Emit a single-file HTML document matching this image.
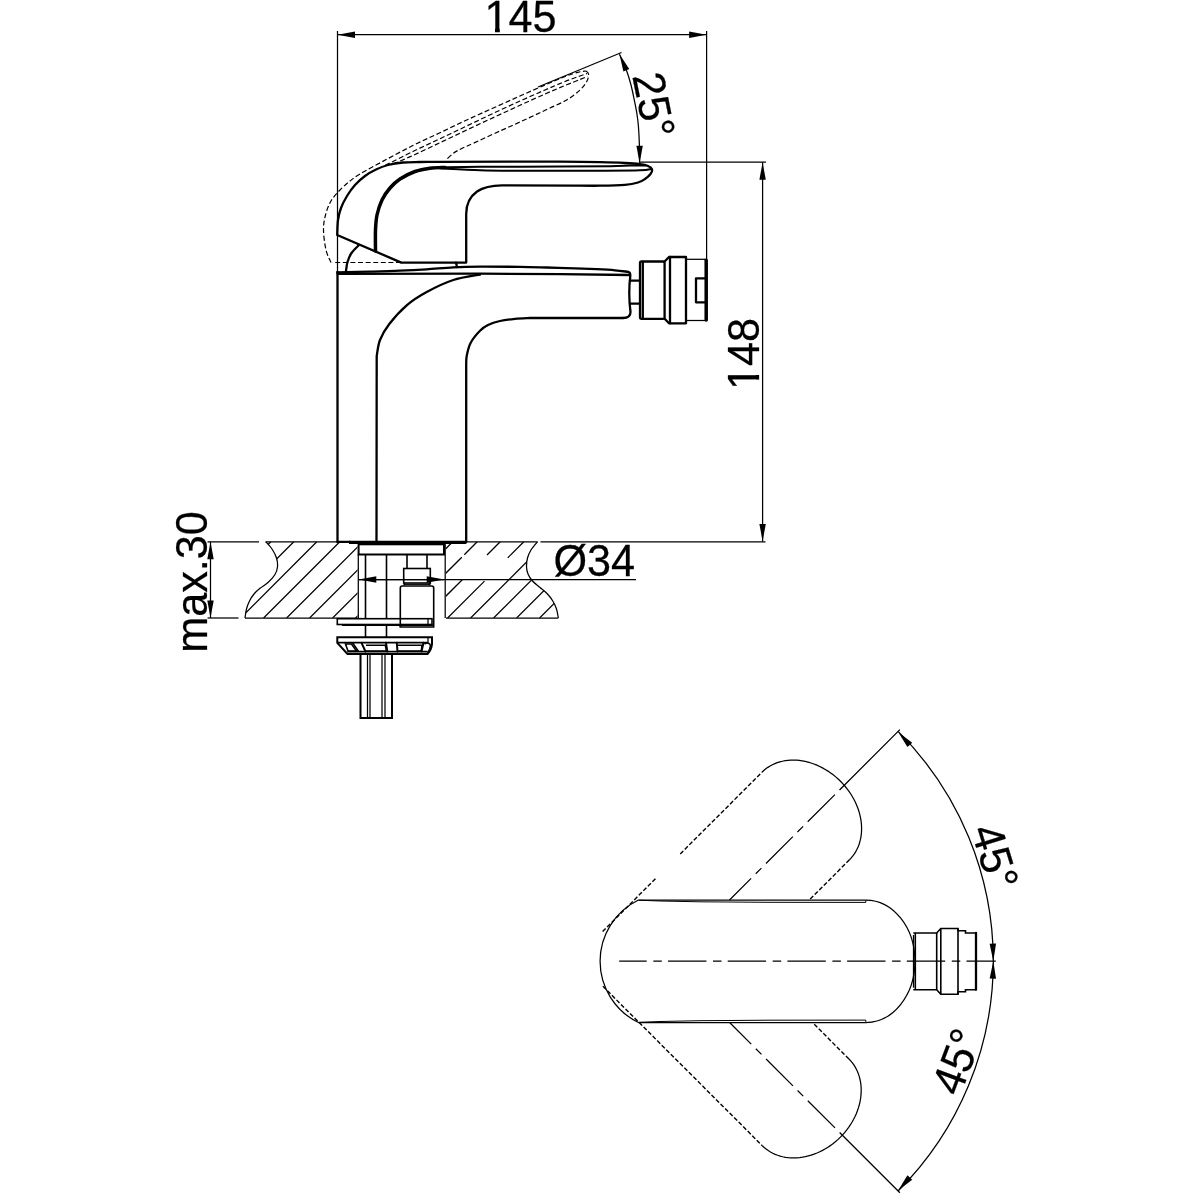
<!DOCTYPE html>
<html lang="en">
<head>
<meta charset="utf-8">
<title>Bidet mixer dimensions</title>
<style>
html,body{margin:0;padding:0;background:#fff;}
body{width:1200px;height:1200px;overflow:hidden;}
svg{display:block;will-change:transform;}
.t{fill:none;stroke:#000;stroke-width:1.25;}
.h{fill:none;stroke:#000;stroke-width:1.0;}
.m{fill:none;stroke:#000;stroke-width:1.6;}
.k2{fill:none;stroke:#000;stroke-width:2.0;stroke-linecap:round;}
.k{fill:none;stroke:#000;stroke-width:2.3;stroke-linejoin:round;stroke-linecap:round;}
.k3b{fill:none;stroke:#000;stroke-width:3.2;}
.k3{fill:none;stroke:#000;stroke-width:3.5;stroke-linecap:round;}
.d{fill:none;stroke:#000;stroke-width:1.2;stroke-dasharray:5 2.6;}
.d2{fill:none;stroke:#000;stroke-width:1.4;stroke-dasharray:4.3 2.1;}
.a{fill:#000;stroke:none;}
.w{fill:#fff;stroke:none;}
.tx{font-family:"Liberation Sans",sans-serif;font-size:43.2px;fill:#000;stroke:#000;stroke-width:0.25;stroke-linejoin:round;}
</style>
</head>
<body>
<svg width="1200" height="1200" viewBox="0 0 1200 1200">
<rect x="0" y="0" width="1200" height="1200" fill="#fff"/>
<line x1="337.50" y1="31.00" x2="337.50" y2="272.00" class="t" />
<line x1="706.60" y1="31.00" x2="706.60" y2="259.50" class="t" />
<line x1="337.50" y1="34.70" x2="706.60" y2="34.70" class="t" />
<polygon points="337.50,34.70 355.00,31.50 355.00,37.90" class="a"/>
<polygon points="706.60,34.70 689.10,37.90 689.10,31.50" class="a"/>
<text transform="translate(520.50 32.00) rotate(0.00) scale(1 1.04)" class="tx" text-anchor="middle">145</text>
<rect x="485.5" y="27.7" width="9.5" height="5.6" class="w"/><rect x="499.8" y="27.7" width="8.7" height="5.6" class="w"/>
<line x1="640.00" y1="162.20" x2="766.00" y2="162.20" class="t" />
<line x1="762.60" y1="162.20" x2="762.60" y2="541.60" class="t" />
<polygon points="762.60,162.20 765.80,179.70 759.40,179.70" class="a"/>
<polygon points="762.60,541.60 759.40,524.10 765.80,524.10" class="a"/>
<text transform="translate(759.00 354.00) rotate(-90.00) scale(1 1.04)" class="tx" text-anchor="middle">148</text>
<rect x="754.7" y="366.5" width="5.6" height="8.5" class="w"/><rect x="754.7" y="379.6" width="5.6" height="8.4" class="w"/>
<line x1="207.50" y1="541.80" x2="259.00" y2="541.80" class="t" />
<line x1="265.50" y1="541.80" x2="337.50" y2="541.80" class="t" />
<line x1="466.00" y1="541.80" x2="537.50" y2="541.80" class="t" />
<line x1="540.50" y1="541.80" x2="765.50" y2="541.80" class="t" />
<line x1="207.50" y1="618.00" x2="238.50" y2="618.00" class="t" />
<line x1="245.00" y1="618.00" x2="357.50" y2="618.00" class="t" />
<line x1="446.00" y1="618.00" x2="558.30" y2="618.00" class="t" />
<line x1="210.50" y1="541.80" x2="210.50" y2="618.00" class="t" />
<polygon points="210.50,541.80 213.70,559.30 207.30,559.30" class="a"/>
<polygon points="210.50,618.00 207.30,600.50 213.70,600.50" class="a"/>
<text transform="translate(206.70 582.00) rotate(-90.00) scale(1 1.04)" class="tx" text-anchor="middle">max.30</text>
<path d="M265.80 541.80 C266.83 543.00 270.22 546.30 272.00 549.00 C273.78 551.70 275.58 555.05 276.50 558.00 C277.42 560.95 277.75 563.95 277.50 566.70 C277.25 569.45 276.58 571.87 275.00 574.50 C273.42 577.13 270.50 580.20 268.00 582.50 C265.50 584.80 262.33 586.38 260.00 588.30 C257.67 590.22 255.75 591.88 254.00 594.00 C252.25 596.12 250.75 598.50 249.50 601.00 C248.25 603.50 247.25 606.17 246.50 609.00 C245.75 611.83 245.25 616.50 245.00 618.00" class="t" />
<path d="M537.50 541.80 C536.42 543.17 532.67 547.30 531.00 550.00 C529.33 552.70 528.25 555.22 527.50 558.00 C526.75 560.78 526.42 564.03 526.50 566.70 C526.58 569.37 527.00 571.62 528.00 574.00 C529.00 576.38 530.50 578.75 532.50 581.00 C534.50 583.25 537.58 585.42 540.00 587.50 C542.42 589.58 544.92 591.33 547.00 593.50 C549.08 595.67 550.92 597.92 552.50 600.50 C554.08 603.08 555.53 606.08 556.50 609.00 C557.47 611.92 558.00 616.50 558.30 618.00" class="t" />
<clipPath id="cl"><path d="M265.80 541.80 C266.83 543.00 270.22 546.30 272.00 549.00 C273.78 551.70 275.58 555.05 276.50 558.00 C277.42 560.95 277.75 563.95 277.50 566.70 C277.25 569.45 276.58 571.87 275.00 574.50 C273.42 577.13 270.50 580.20 268.00 582.50 C265.50 584.80 262.33 586.38 260.00 588.30 C257.67 590.22 255.75 591.88 254.00 594.00 C252.25 596.12 250.75 598.50 249.50 601.00 C248.25 603.50 247.25 606.17 246.50 609.00 C245.75 611.83 245.25 616.50 245.00 618.00 L357.5 618 L357.5 541.8 Z"/></clipPath>
<clipPath id="crr"><path d="M537.50 541.80 C536.42 543.17 532.67 547.30 531.00 550.00 C529.33 552.70 528.25 555.22 527.50 558.00 C526.75 560.78 526.42 564.03 526.50 566.70 C526.58 569.37 527.00 571.62 528.00 574.00 C529.00 576.38 530.50 578.75 532.50 581.00 C534.50 583.25 537.58 585.42 540.00 587.50 C542.42 589.58 544.92 591.33 547.00 593.50 C549.08 595.67 550.92 597.92 552.50 600.50 C554.08 603.08 555.53 606.08 556.50 609.00 C557.47 611.92 558.00 616.50 558.30 618.00 L446 618 L446 541.8 Z"/></clipPath>
<g clip-path="url(#cl)" class="t"><line x1="194.60" y1="618" x2="270.80" y2="541.8"/><line x1="217.60" y1="618" x2="293.80" y2="541.8"/><line x1="240.60" y1="618" x2="316.80" y2="541.8"/><line x1="263.60" y1="618" x2="339.80" y2="541.8"/><line x1="286.60" y1="618" x2="362.80" y2="541.8"/><line x1="309.60" y1="618" x2="385.80" y2="541.8"/><line x1="332.60" y1="618" x2="408.80" y2="541.8"/><line x1="355.60" y1="618" x2="431.80" y2="541.8"/><line x1="378.60" y1="618" x2="454.80" y2="541.8"/><line x1="401.60" y1="618" x2="477.80" y2="541.8"/><line x1="424.60" y1="618" x2="500.80" y2="541.8"/><line x1="447.60" y1="618" x2="523.80" y2="541.8"/></g>
<g clip-path="url(#crr)" class="t"><line x1="445.50" y1="549.00" x2="452.70" y2="541.80"/><line x1="445.50" y1="573.50" x2="461.80" y2="557.20"/><line x1="464.30" y1="554.70" x2="477.20" y2="541.80"/><line x1="445.50" y1="596.50" x2="462.50" y2="579.50"/><line x1="487.00" y1="555.00" x2="500.20" y2="541.80"/><line x1="447.60" y1="618.00" x2="484.50" y2="581.10"/><line x1="507.70" y1="557.90" x2="523.80" y2="541.80"/><line x1="470.60" y1="618" x2="546.80" y2="541.8"/><line x1="493.60" y1="618" x2="569.80" y2="541.8"/><line x1="516.60" y1="618" x2="592.80" y2="541.8"/><line x1="539.60" y1="618" x2="615.80" y2="541.8"/><line x1="562.60" y1="618" x2="638.80" y2="541.8"/></g>
<line x1="358.30" y1="554.50" x2="358.30" y2="618.00" class="t" />
<line x1="445.20" y1="541.80" x2="445.20" y2="618.00" class="t" />
<line x1="358.50" y1="579.50" x2="636.00" y2="579.50" class="t" />
<polygon points="358.80,579.50 376.30,576.30 376.30,582.70" class="a"/>
<polygon points="444.20,579.50 426.70,582.70 426.70,576.30" class="a"/>
<text transform="translate(594.25 576.30) rotate(0.00) scale(1 1.04)" class="tx" text-anchor="middle">Ø34</text>
<path d="M401 262.5 L332.5 262.5" class="d" />
<path d="M331.00 262.50 C330.17 260.42 327.25 255.42 326.00 250.00 C324.75 244.58 323.58 235.83 323.50 230.00 C323.42 224.17 324.25 219.83 325.50 215.00 C326.75 210.17 328.58 205.17 331.00 201.00 C333.42 196.83 336.83 193.33 340.00 190.00 C343.17 186.67 346.67 183.67 350.00 181.00 C353.33 178.33 353.88 177.62 360.00 174.00 C366.12 170.38 377.82 164.08 386.70 159.30 C395.58 154.52 404.42 149.73 413.30 145.30 C422.18 140.87 431.10 136.92 440.00 132.70 C448.90 128.48 457.82 124.12 466.70 120.00 C475.58 115.88 484.42 112.00 493.30 108.00 C502.18 104.00 511.38 99.83 520.00 96.00 C528.62 92.17 537.50 88.25 545.00 85.00 C552.50 81.75 559.50 78.62 565.00 76.50 C570.50 74.38 574.50 73.22 578.00 72.30 C581.50 71.38 584.67 71.22 586.00 71.00" class="d" />
<path d="M586.00 71.00 C586.42 71.50 588.33 72.33 588.50 74.00 C588.67 75.67 588.42 78.33 587.00 81.00 C585.58 83.67 583.38 86.83 580.00 90.00 C576.62 93.17 571.70 97.00 566.70 100.00 C561.70 103.00 555.28 105.50 550.00 108.00 C544.72 110.50 540.00 112.67 535.00 115.00 C530.00 117.33 524.72 119.83 520.00 122.00 C515.28 124.17 511.15 126.00 506.70 128.00 C502.25 130.00 498.87 131.45 493.30 134.00 C487.73 136.55 478.63 140.85 473.30 143.30 C467.97 145.75 464.63 147.03 461.30 148.70 C457.97 150.37 455.85 151.42 453.30 153.30 C450.75 155.18 447.22 158.88 446.00 160.00" class="d" />
<path d="M385.30 165.30 C389.97 162.97 404.18 155.73 413.30 151.30 C422.42 146.87 431.10 142.92 440.00 138.70 C448.90 134.48 457.82 130.23 466.70 126.00 C475.58 121.77 484.42 117.47 493.30 113.30 C502.18 109.13 511.38 104.88 520.00 101.00 C528.62 97.12 537.50 93.25 545.00 90.00 C552.50 86.75 559.17 83.83 565.00 81.50 C570.83 79.17 576.33 77.33 580.00 76.00 C583.67 74.67 585.83 73.92 587.00 73.50" class="d" />
<path d="M393.30 164.00 C396.63 162.55 405.52 158.85 413.30 155.30 C421.08 151.75 431.10 146.92 440.00 142.70 C448.90 138.48 457.82 134.18 466.70 130.00 C475.58 125.82 484.42 121.72 493.30 117.60 C502.18 113.48 511.38 109.23 520.00 105.30 C528.62 101.37 537.50 97.30 545.00 94.00 C552.50 90.70 559.17 87.92 565.00 85.50 C570.83 83.08 576.25 81.00 580.00 79.50 C583.75 78.00 586.25 77.00 587.50 76.50" class="d" />
<line x1="538.00" y1="87.00" x2="621.50" y2="52.50" class="t" />
<path d="M619.50 54.30 C620.70 57.08 624.78 65.88 626.70 71.00 C628.62 76.12 629.73 80.17 631.00 85.00 C632.27 89.83 633.33 95.33 634.30 100.00 C635.27 104.67 636.12 108.67 636.80 113.00 C637.48 117.33 637.97 120.67 638.40 126.00 C638.83 131.33 639.20 138.83 639.40 145.00 C639.60 151.17 639.57 160.00 639.60 163.00" class="t" />
<polygon points="619.50,54.20 629.28,69.06 623.39,71.56" class="a"/>
<polygon points="639.60,163.30 636.40,145.80 642.80,145.80" class="a"/>
<text transform="translate(638.75 108.12) rotate(78.50) scale(1 1.04)" class="tx" text-anchor="middle">25°</text>
<path d="M337.20 235.00 C337.33 232.50 337.37 224.50 338.00 220.00 C338.63 215.50 339.50 212.00 341.00 208.00 C342.50 204.00 344.67 199.83 347.00 196.00 C349.33 192.17 352.00 188.33 355.00 185.00 C358.00 181.67 361.50 178.58 365.00 176.00 C368.50 173.42 372.17 171.33 376.00 169.50 C379.83 167.67 383.50 166.17 388.00 165.00 C392.50 163.83 397.67 163.00 403.00 162.50 C408.33 162.00 413.83 162.12 420.00 162.00 C426.17 161.88 436.67 161.83 440.00 161.80 L560 161.6 C566.67 161.70 589.17 161.97 600.00 162.20 C610.83 162.43 618.33 162.67 625.00 163.00 C631.67 163.33 636.17 163.70 640.00 164.20 C643.83 164.70 646.00 165.15 648.00 166.00 C650.00 166.85 651.58 167.97 652.00 169.30 C652.42 170.63 651.67 172.38 650.50 174.00 C649.33 175.62 647.08 177.58 645.00 179.00 C642.92 180.42 641.33 181.53 638.00 182.50 C634.67 183.47 631.33 184.27 625.00 184.80 C618.67 185.33 608.33 185.57 600.00 185.70 C591.67 185.83 579.17 185.62 575.00 185.60 L502 185.4 C492 185.5 483 187.5 477 191.5 C470 196.5 466.2 204 466.2 214  L466.2 262.6 L401.3 262.6 Z" class="k" />
<path d="M375.50 251.00 C375.50 247.50 375.25 236.00 375.50 230.00 C375.75 224.00 375.92 220.00 377.00 215.00 C378.08 210.00 379.83 204.50 382.00 200.00 C384.17 195.50 387.00 191.50 390.00 188.00 C393.00 184.50 395.83 181.75 400.00 179.00 C404.17 176.25 410.00 173.30 415.00 171.50 C420.00 169.70 425.00 168.88 430.00 168.20 C435.00 167.52 442.50 167.53 445.00 167.40" class="k3" />
<path d="M440.00 167.30 C446.67 167.20 460.00 166.82 480.00 166.70 C500.00 166.58 538.33 166.67 560.00 166.60 C581.67 166.53 598.33 166.47 610.00 166.30 C621.67 166.13 624.17 165.75 630.00 165.60 C635.83 165.45 642.50 165.43 645.00 165.40" class="k2" />
<path d="M440.00 168.30 C446.67 168.62 466.67 169.78 480.00 170.20 C493.33 170.62 500.00 170.72 520.00 170.80 C540.00 170.88 580.00 170.78 600.00 170.70 C620.00 170.62 631.42 170.60 640.00 170.30 C648.58 170.00 649.58 169.13 651.50 168.90" class="k2" />
<path d="M346.00 271.00 C346.25 269.50 346.58 265.00 347.50 262.00 C348.42 259.00 349.58 255.83 351.50 253.00 C353.42 250.17 357.75 246.33 359.00 245.00" class="k" />
<line x1="456.00" y1="262.70" x2="457.00" y2="267.00" class="k" />
<path d="M337.5 272 L337.5 542" class="k" />
<path d="M337.5 541.9 L350 541.9" class="k" />
<path d="M349 542.3 L466.3 542.3" class="k3b" />
<path d="M337.30 272.30 C342.75 272.18 359.55 271.87 370.00 271.60 C380.45 271.33 390.55 271.08 400.00 270.70 C409.45 270.32 417.82 269.87 426.70 269.30 C435.58 268.73 444.42 267.75 453.30 267.30 C462.18 266.85 468.88 266.67 480.00 266.60 C491.12 266.53 508.88 266.75 520.00 266.90 C531.12 267.05 537.53 267.27 546.70 267.50 C555.87 267.73 566.67 268.02 575.00 268.30 C583.33 268.58 590.03 268.87 596.70 269.20 C603.37 269.53 609.78 269.87 615.00 270.30 C620.22 270.73 625.83 271.55 628.00 271.80" class="k" />
<path d="M337.5 273.8 L480 273.6 L560 274.2 L629 275" class="k" />
<path d="M480.00 274.50 C475.55 275.42 462.18 277.08 453.30 280.00 C444.42 282.92 434.47 287.78 426.70 292.00 C418.93 296.22 412.93 299.97 406.70 305.30 C400.47 310.63 393.75 318.22 389.30 324.00 C384.85 329.78 382.10 334.67 380.00 340.00 C377.90 345.33 377.25 353.33 376.70 356.00 L376.5 542" class="k" />
<path d="M623 318 L530 318 C527.50 318.13 520.00 318.30 515.00 318.80 C510.00 319.30 504.50 319.97 500.00 321.00 C495.50 322.03 491.33 323.38 488.00 325.00 C484.67 326.62 482.88 327.75 480.00 330.70 C477.12 333.65 472.92 338.48 470.70 342.70 C468.48 346.92 467.45 352.12 466.70 356.00 C465.95 359.88 466.28 364.33 466.20 366.00 L466.2 542" class="k" />
<path d="M628 271.8 C630 272 630.5 273 630.3 276 C628.5 290 629 300 630.5 312 C630.5 316 628 318 623 318" class="k" />
<line x1="630.00" y1="280.60" x2="640.00" y2="280.60" class="k" />
<line x1="630.00" y1="303.60" x2="640.00" y2="303.60" class="k" />
<rect x="640" y="261.5" width="24.6" height="57.3" rx="1.5" class="k"/>
<line x1="642.80" y1="262.00" x2="642.80" y2="318.50" class="k" />
<path d="M664.6 261.5 L669 257 L686 257 L686 323.3 L669 323.3 L664.6 318.8" class="k" />
<line x1="670.00" y1="257.00" x2="670.00" y2="323.30" class="k" />
<path d="M686 259.3 L706 259.3" class="t" />
<path d="M686 320.5 L706 320.5" class="t" />
<path d="M706.2 260.3 L706.2 320" class="k3" />
<path d="M706 278.3 L696 278.3 L696 302.3 L706 302.3" class="k" />
<rect x="358.6" y="544.3" width="85.4" height="10.2" class="k2"/>
<line x1="365.50" y1="554.50" x2="365.50" y2="637.00" class="m" />
<line x1="386.50" y1="554.50" x2="386.50" y2="637.00" class="m" />
<line x1="407.00" y1="554.50" x2="407.00" y2="568.50" class="m" />
<line x1="427.00" y1="554.50" x2="427.00" y2="568.50" class="m" />
<rect x="403.7" y="568.5" width="26.6" height="14.5" class="m" fill="#fff"/>
<line x1="358.50" y1="579.50" x2="444.00" y2="579.50" class="t" />
<path d="M404.3 583 L404.3 585.5 M429.7 583 L429.7 585.5" class="m" />
<path d="M404.3 584.3 L429.7 584.3" class="t" />
<path d="M400.3 627 L400.3 588 Q400.3 586 402.3 586 L431.7 586 Q433.7 586 433.7 588 L433.7 627 Z" class="m" style="fill:#fff"/>
<rect x="337.3" y="618.7" width="94.7" height="5.8" class="m" style="fill:#fff"/>
<line x1="400.30" y1="618.70" x2="400.30" y2="627.00" class="m" />
<line x1="342.00" y1="625.20" x2="433.00" y2="625.20" class="m" />
<line x1="428.00" y1="618.70" x2="428.00" y2="624.60" class="t" />
<path d="M337.3 637.3 L432 637.3 L432 644 Q431.5 650 427.5 654 L347.5 654 L337.3 642.8 Z" class="k2" />
<line x1="337.30" y1="642.60" x2="428.00" y2="642.60" class="m" />
<path d="M345.5 644 L351.5 644 L356.5 651 L348 651 Z" class="m" />
<path d="M352.5 642.8 L358.5 651.5" class="m" />
<path d="M361.5 642.8 L365.5 651.5" class="k2" />
<path d="M366 645.2 L385.3 645.2 L386.5 651 L365.5 651" class="m" />
<path d="M386 642.8 L387.3 651.5" class="k2" />
<path d="M396.8 642.8 L397.5 651.5" class="k2" />
<path d="M397 645.2 L422 645.2 L421.3 651 L397.5 651" class="m" />
<path d="M423.5 642.8 L421.5 651.5" class="k2" />
<path d="M424.5 644 Q429 641.5 430.5 645.5 Q430 650 427.5 653" class="m" />
<line x1="428.00" y1="637.30" x2="428.00" y2="642.60" class="t" />
<line x1="347.50" y1="651.60" x2="427.50" y2="651.60" class="m" />
<path d="M360.5 654 L360.5 718 L392 718 L392 654" class="k2" />
<line x1="367.50" y1="654.00" x2="367.50" y2="718.00" class="t" />
<line x1="370.00" y1="654.00" x2="370.00" y2="718.00" class="t" />
<line x1="382.00" y1="654.00" x2="382.00" y2="718.00" class="t" />
<line x1="385.00" y1="654.00" x2="385.00" y2="718.00" class="t" />
<path d="M638.43 900.00 A68.10 68.10 0 0 0 638.43 1022.50" class="t" />
<path d="M865.8 900.00 A49.2 61.25 0 0 1 865.8 1022.50" class="t" />
<path d="M638.43 900.00 L865.8 900.00" class="t" />
<path d="M638.43 1022.50 L865.8 1022.50" class="t" />
<path d="M638.43 900.20 L660 901.00 L700 901.80 L768 902.30 L865.8 902.40 L865.8 900.00" class="h" />
<path d="M638.43 1022.30 L660 1021.50 L700 1020.70 L768 1020.20 L865.8 1020.10 L865.8 1022.50" class="h" />
<path d="M619.2 961.2 L995.8 961.2" class="t" stroke-dasharray="38.4 6.6 8.5 6.2" stroke-dashoffset="10.9"/>
<path d="M913.3 933 L936.7 933 L940.8 928.5 L958 928.5 L958 930.8 L965.5 930.8 L965.5 933 L976.3 933" class="m" />
<path d="M913.3 989.7 L936.7 989.7 L940.8 994.2 L958 994.2 L958 991.7 L965.5 991.7 L965.5 989.7 L976.3 989.7" class="m" />
<line x1="913.50" y1="935.00" x2="913.50" y2="987.70" class="t" />
<line x1="915.30" y1="933.00" x2="915.30" y2="989.70" class="m" />
<line x1="936.70" y1="933.00" x2="936.70" y2="989.70" class="m" />
<line x1="940.80" y1="928.50" x2="940.80" y2="994.20" class="m" />
<line x1="958.00" y1="928.50" x2="958.00" y2="994.20" class="m" />
<line x1="976.00" y1="933.00" x2="976.00" y2="989.70" class="k" />
<path d="M761.92 772.26 L763.80 770.50 L765.80 768.86 L767.90 767.36 L770.11 765.98 L772.42 764.75 L774.81 763.65 L777.30 762.70 L779.86 761.89 L782.49 761.24 L785.18 760.73 L787.93 760.37 L790.73 760.17 L793.57 760.12 L796.44 760.22 L799.34 760.48 L802.26 760.89 L805.18 761.45 L808.11 762.16 L811.03 763.02 L813.93 764.02 L816.82 765.16 L819.67 766.45 L822.48 767.87 L825.25 769.42 L827.97 771.10 L830.62 772.90 L833.21 774.82 L835.71 776.86 L838.14 779.00 L840.48 781.24 L842.72 783.58 L844.87 786.01 L846.90 788.52 L848.82 791.10 L850.62 793.76 L852.30 796.47 L853.86 799.24 L855.28 802.05 L856.56 804.90 L857.70 807.79 L858.71 810.69 L859.56 813.61 L860.27 816.54 L860.83 819.47 L861.24 822.38 L861.50 825.28 L861.60 828.15 L861.55 830.99 L861.35 833.79 L860.99 836.54 L860.48 839.24 L859.83 841.87 L859.02 844.43 L858.07 846.91 L856.97 849.31 L855.74 851.61 L854.36 853.82 L852.86 855.92 L851.22 857.92 L849.46 859.80" class="t" />
<line x1="602.61" y1="931.57" x2="656.00" y2="878.19" class="d2" />
<line x1="680.25" y1="853.93" x2="761.92" y2="772.26" class="d2" />
<line x1="849.46" y1="859.80" x2="809.26" y2="900.00" class="d2" />
<line x1="729.50" y1="900.00" x2="899.88" y2="729.62" class="t" stroke-dasharray="30.6 6.5 8 6.5 38 6.5 8 6.5 38.5 6.5 200"/>
<path d="M762.27 1145.68 L764.15 1147.45 L766.15 1149.08 L768.25 1150.59 L770.45 1151.97 L772.76 1153.21 L775.15 1154.31 L777.62 1155.27 L780.17 1156.09 L782.79 1156.75 L785.48 1157.27 L788.22 1157.64 L791.00 1157.85 L793.83 1157.92 L796.69 1157.83 L799.57 1157.59 L802.47 1157.20 L805.38 1156.65 L808.29 1155.96 L811.19 1155.12 L814.08 1154.14 L816.94 1153.01 L819.77 1151.75 L822.57 1150.35 L825.31 1148.82 L828.01 1147.16 L830.64 1145.38 L833.20 1143.48 L835.69 1141.47 L838.09 1139.35 L840.41 1137.13 L842.63 1134.81 L844.75 1132.41 L846.76 1129.92 L848.66 1127.36 L850.44 1124.72 L852.10 1122.03 L853.63 1119.28 L855.03 1116.49 L856.30 1113.66 L857.42 1110.79 L858.40 1107.91 L859.24 1105.01 L859.94 1102.10 L860.48 1099.19 L860.87 1096.29 L861.11 1093.41 L861.20 1090.55 L861.14 1087.72 L860.92 1084.93 L860.55 1082.19 L860.04 1079.51 L859.37 1076.89 L858.55 1074.34 L857.59 1071.86 L856.49 1069.47 L855.25 1067.17 L853.87 1064.97 L852.36 1062.87 L850.73 1060.87 L848.97 1058.99" class="t" />
<line x1="602.89" y1="986.30" x2="762.27" y2="1145.68" class="d2" />
<line x1="848.97" y1="1058.99" x2="812.47" y2="1022.50" class="d2" />
<line x1="729.60" y1="1022.50" x2="899.88" y2="1192.78" class="t" stroke-dasharray="30.6 6.5 8 6.5 38 6.5 8 6.5 38.5 6.5 200"/>
<path d="M898.11 731.39 A325.0 325.0 0 0 1 993.30 961.20 A325.0 325.0 0 0 1 898.11 1191.01" class="t" />
<polygon points="898.11,731.89 912.20,742.75 907.44,747.04" class="a"/>
<polygon points="898.11,1190.51 907.44,1175.36 912.20,1179.65" class="a"/>
<polygon points="993.30,961.20 989.64,943.79 996.04,943.62" class="a"/>
<polygon points="993.30,961.20 996.04,978.78 989.64,978.61" class="a"/>
<text transform="translate(980.25 861.25) rotate(73.00) scale(1 1.04)" class="tx" text-anchor="middle">45°</text>
<text transform="translate(971.25 1067.00) rotate(-69.50) scale(1 1.04)" class="tx" text-anchor="middle">45°</text>
</svg>
</body>
</html>
